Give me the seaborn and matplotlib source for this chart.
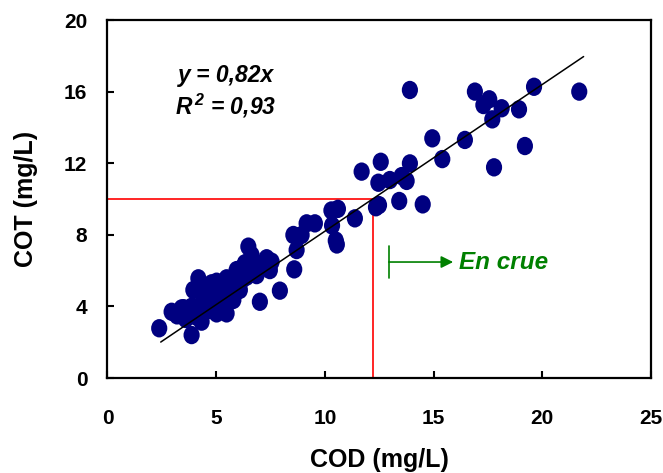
import numpy as np
import pandas as pd
import matplotlib
matplotlib.use("Agg")
import matplotlib.pyplot as plt
from matplotlib.path import Path
from matplotlib.markers import MarkerStyle
import seaborn as sns

cod = [2.38, 3.87, 2.95, 3.41, 4.18, 3.95, 4.33, 4.79, 5.17, 5.48, 5.94, 6.32,
       6.48, 6.78, 7.32, 7.47, 7.01, 7.93, 8.59, 8.70, 8.55, 8.93, 9.16, 9.54,
       5.48, 5.79, 6.09, 5.63, 4.64, 4.33, 4.71, 5.02, 3.72, 4.10, 3.87, 5.02,
       5.33, 4.33, 6.40, 6.86, 7.17, 7.55, 6.17, 6.63, 4.56, 5.02, 5.94,
       3.20, 3.60, 4.40, 4.90, 3.50, 4.80, 5.30, 6.60, 7.00, 6.20, 5.70,
       10.30, 10.60, 10.33, 10.50, 10.55, 11.38, 11.69, 12.49, 12.35, 12.46,
       12.57, 12.99, 13.42, 13.53, 13.76, 13.91, 13.91, 14.50, 14.94, 15.40,
       16.44, 16.90, 17.29, 17.56, 17.70, 17.78, 18.13, 18.93, 19.20, 19.62,
       21.70]
cot = [2.78, 2.40, 3.70, 3.89, 5.57, 4.92, 4.82, 5.29, 4.92, 5.57, 5.38, 6.41,
       7.34, 6.41, 6.69, 6.03, 4.26, 4.88, 6.07, 7.15, 7.99, 7.99, 8.64, 8.64,
       3.61, 4.36, 4.92, 4.92, 4.26, 3.15, 3.80, 3.61, 3.61, 3.42, 3.98, 4.36,
       4.08, 3.98, 5.66, 5.75, 6.31, 6.50, 6.13, 6.87, 5.10, 5.38, 6.03,
       3.50, 3.30, 4.50, 4.70, 3.90, 4.10, 5.10, 5.90, 6.20, 5.50, 5.00,
       9.36, 9.45, 8.52, 7.68, 7.46, 8.92, 11.53, 9.66, 9.54, 10.91,
       12.08, 11.06, 9.89, 11.28, 11.01, 11.99, 16.09, 9.70, 13.39, 12.23,
       13.30, 16.00, 15.25, 15.57, 14.45, 11.77, 15.07, 15.01, 12.96, 16.27,
       16.00]

slope = 0.82
fit_x = [2.45, 21.9]
threshold_cod = 12.2
threshold_cot = 10

df = pd.DataFrame({"COD": cod, "COT": cot})

sns.set_style("ticks")
plt.rcParams["font.family"] = ["Liberation Sans", "DejaVu Sans"]
plt.rcParams["mathtext.default"] = "regular"
plt.rcParams["text.color"] = "black"
plt.rcParams["axes.labelcolor"] = "black"
plt.rcParams["xtick.color"] = "black"
plt.rcParams["ytick.color"] = "black"

fig = plt.figure(figsize=(6.63, 4.73), dpi=100)
ax = fig.add_axes([0.1621, 0.2008, 0.8198, 0.7569])

# slightly tall ellipse marker, like the original
circ = Path.unit_circle()
ell = Path(circ.vertices * np.array([0.88, 1.0]), circ.codes)
sns.scatterplot(data=df, x="COD", y="COT", ax=ax, marker=MarkerStyle(ell),
                s=175, color="#000080", edgecolor="none", linewidth=0, zorder=3)

fx = np.array(fit_x)
ax.plot(fx, slope * fx, color="black", lw=1.1, zorder=4)

ax.plot([0, threshold_cod], [threshold_cot, threshold_cot], color="red", lw=1.2, zorder=2)
ax.plot([threshold_cod, threshold_cod], [0, threshold_cot], color="red", lw=1.2, zorder=2)

# "En crue" marker
green = "#008000"
ax.plot([12.94, 12.94], [5.6, 7.35], color=green, lw=1.2)
ax.annotate("", xy=(15.9, 6.48), xytext=(12.94, 6.48),
            arrowprops=dict(arrowstyle="-|>", color=green, lw=1.2,
                            mutation_scale=18, shrinkA=0, shrinkB=0))
ax.text(16.15, 6.48, "En crue", color=green, fontsize=17.5, fontweight="bold",
        fontstyle="italic", va="center", ha="left")

ax.text(5.45, 16.9, "y = 0,82x", fontsize=16.5, fontweight="bold",
        fontstyle="italic", ha="center", va="center")
ax.text(5.45, 15.2, "R$^{\\,2}$ = 0,93", fontsize=16.5, fontweight="bold",
        fontstyle="italic", ha="center", va="center")

ax.set_xlim(0, 25)
ax.set_ylim(0, 20)
ax.set_xticks([0, 5, 10, 15, 20, 25])
ax.set_yticks([0, 4, 8, 12, 16, 20])
ax.tick_params(direction="in", length=5, width=1.5, labelsize=15, color="black")
ax.tick_params(axis="x", pad=22)
ax.tick_params(axis="y", pad=14.5)
for lab in ax.get_xticklabels() + ax.get_yticklabels():
    lab.set_fontweight("bold")
for sp in ax.spines.values():
    sp.set_visible(True)
    sp.set_linewidth(1.6)
    sp.set_color("black")

ax.set_xlabel("COD (mg/L)", fontsize=18, fontweight="bold")
ax.set_ylabel("COT (mg/L)", fontsize=18, fontweight="bold")
ax.xaxis.set_label_coords(0.5, -0.195)
ax.yaxis.set_label_coords(-0.128, 0.5)

fig.savefig("out.png", dpi=100)
